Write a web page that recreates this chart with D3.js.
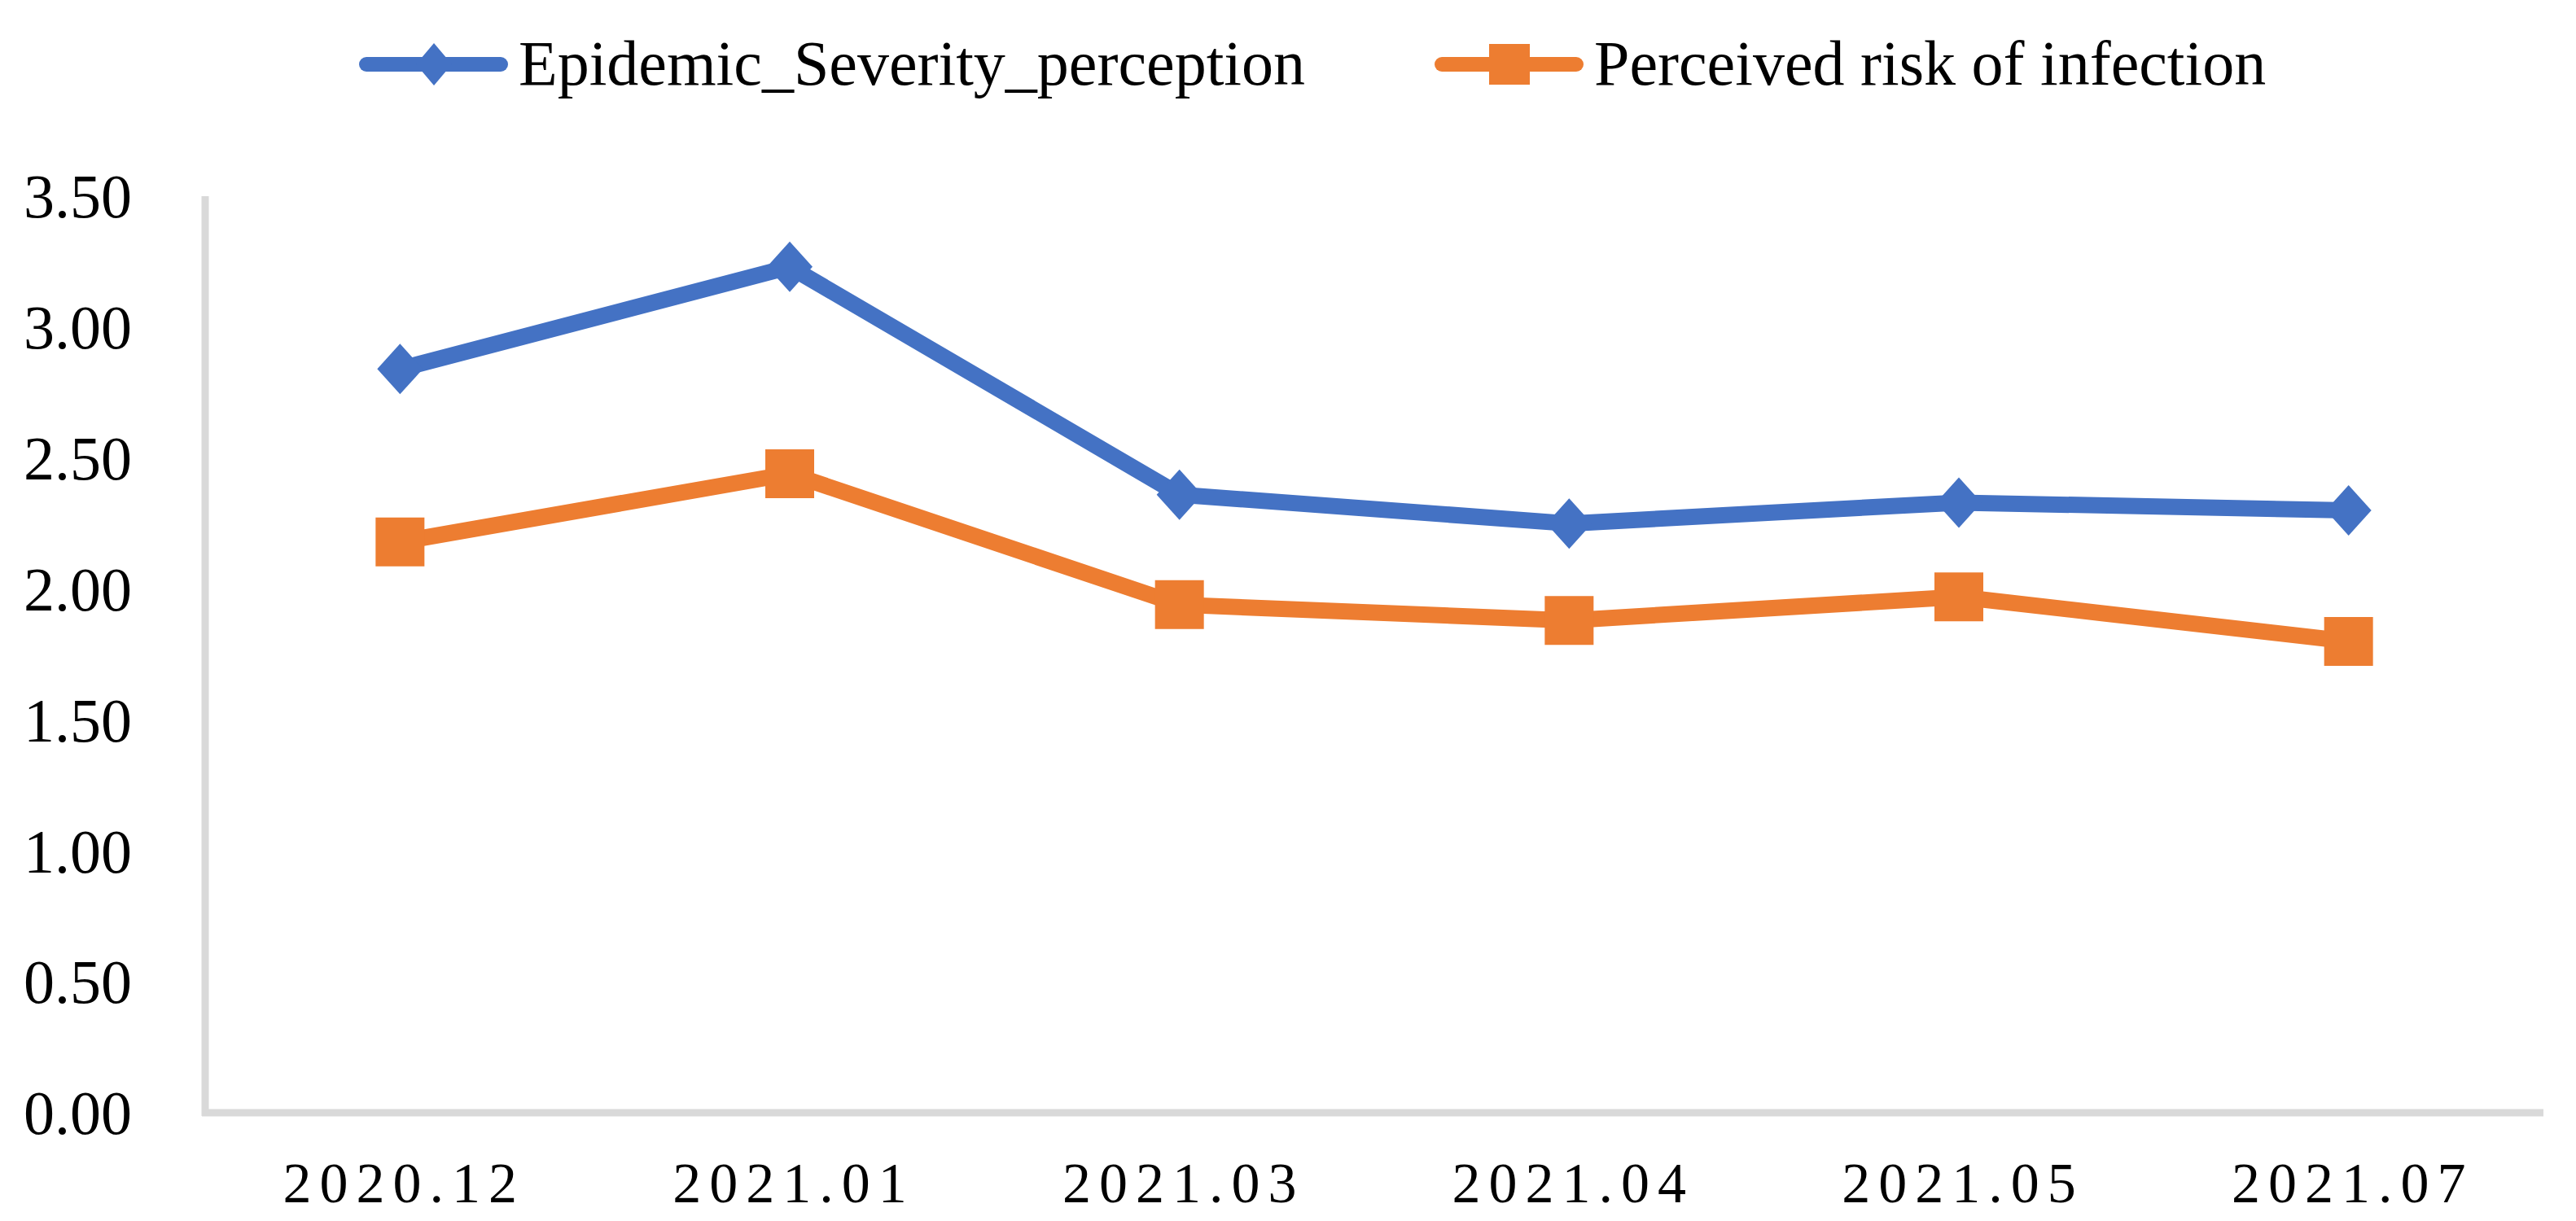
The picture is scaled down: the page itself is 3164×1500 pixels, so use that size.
<!DOCTYPE html>
<html>
<head>
<meta charset="utf-8">
<script src="https://cdn.jsdelivr.net/npm/d3@7"></script>
<style>
  body { margin: 0; background: #fff; }
  text { font-family: "Liberation Serif", "Times New Roman", serif; fill: #000; }
</style>
</head>
<body>
<div id="chart"></div>
<script>
var width = 3164;
var height = 1500;

var categories = ['2020.12', '2021.01', '2021.03', '2021.04', '2021.05', '2021.07'];
var severity = [2.84, 3.23, 2.36, 2.25, 2.33, 2.30];
var risk = [2.18, 2.44, 1.94, 1.88, 1.97, 1.80];
var yTicks = [0, 0.5, 1, 1.5, 2, 2.5, 3, 3.5];
var seriesNames = ['Epidemic_Severity_perception', 'Perceived risk of infection'];

var blue = '#4472C4';
var orange = '#ED7D31';
var axisColor = '#d9d9d9';

var margin = { top: 241, right: 40, bottom: 133, left: 252 };

// excel-style diamond: rotated square, w x h
function diamond(w, h) {
  return {
    draw: function (ctx) {
      ctx.moveTo(0, -h / 2);
      ctx.lineTo(w / 2, 0);
      ctx.lineTo(0, h / 2);
      ctx.lineTo(-w / 2, 0);
      ctx.closePath();
    }
  };
}

function init() {

  var svg = d3.select('#chart')
    .append('svg')
      .attr('width', width)
      .attr('height', height);

  svg.append('rect')
    .attr('width', width)
    .attr('height', height)
    .attr('fill', '#fff');

  var x = d3.scaleBand()
    .domain(categories)
    .range([margin.left, width - margin.right]);

  var y = d3.scaleLinear()
    .domain([0, 3.5])
    .range([height - margin.bottom, margin.top]);

  // y axis labels
  var yAxis = svg.append('g')
    .attr('transform', 'translate(' + margin.left + ',0)')
    .call(d3.axisLeft(y).tickValues(yTicks).tickSize(0).tickPadding(90)
      .tickFormat(d3.format('.2f')));
  yAxis.select('.domain').remove();
  yAxis.selectAll('text')
    .attr('font-size', 76)
    .attr('font-family', '"Liberation Serif", "Times New Roman", serif')
    .attr('dy', '0.34em');

  // x axis labels
  var xAxis = svg.append('g')
    .attr('transform', 'translate(0,' + y(0) + ')')
    .call(d3.axisBottom(x).tickSize(0).tickPadding(60));
  xAxis.select('.domain').remove();
  xAxis.selectAll('text')
    .attr('font-size', 70)
    .attr('font-family', '"Liberation Serif", "Times New Roman", serif')
    .attr('letter-spacing', '10px')
    .attr('dx', '5px')
    .attr('dy', '0.71em');

  // axis lines
  svg.append('line')
    .attr('x1', margin.left).attr('x2', margin.left)
    .attr('y1', y(3.5)).attr('y2', y(0) + 4)
    .attr('stroke', axisColor).attr('stroke-width', 9);

  svg.append('line')
    .attr('x1', margin.left - 4).attr('x2', width - margin.right)
    .attr('y1', y(0)).attr('y2', y(0))
    .attr('stroke', axisColor).attr('stroke-width', 9);

  var line = d3.line()
    .x(function (d, i) { return x(categories[i]) + x.bandwidth() / 2; })
    .y(function (d) { return y(d); });

  var series = [
    { values: severity, color: blue, symbol: diamond(56, 62) },
    { values: risk, color: orange, symbol: d3.symbolSquare, size: 3600 }
  ];

  series.forEach(function (s) {
    svg.append('path')
      .attr('fill', 'none')
      .attr('stroke', s.color)
      .attr('stroke-width', 20)
      .attr('stroke-linejoin', 'round')
      .attr('d', line(s.values));

    svg.append('g')
      .selectAll('path')
      .data(s.values)
      .enter()
      .append('path')
        .attr('fill', s.color)
        .attr('transform', function (d, i) {
          return 'translate(' + (x(categories[i]) + x.bandwidth() / 2) + ',' + y(d) + ')';
        })
        .attr('d', d3.symbol().type(s.symbol).size(s.size || 64));
  });

  // legend
  var legendItems = [
    { name: seriesNames[0], color: blue, x: 441, symbol: diamond(44, 52) },
    { name: seriesNames[1], color: orange, x: 1762, symbol: d3.symbolSquare, size: 2500 }
  ];

  var legend = svg.append('g').attr('class', 'legend');

  legendItems.forEach(function (d) {
    var g = legend.append('g').attr('transform', 'translate(' + d.x + ',79)');
    g.append('line')
      .attr('x1', 9).attr('x2', 174)
      .attr('stroke', d.color)
      .attr('stroke-width', 18)
      .attr('stroke-linecap', 'round');
    g.append('path')
      .attr('fill', d.color)
      .attr('transform', 'translate(92,0)')
      .attr('d', d3.symbol().type(d.symbol).size(d.size || 64));
    g.append('text')
      .attr('x', 196)
      .attr('y', 25)
      .attr('font-size', 78)
      .text(d.name);
  });
}

init();
</script>
</body>
</html>
